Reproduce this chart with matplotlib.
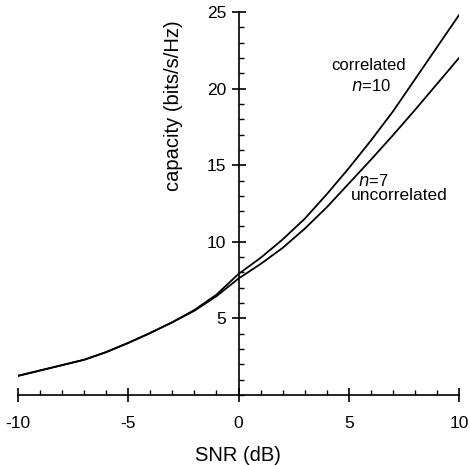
import matplotlib
matplotlib.use("Agg")
import matplotlib.pyplot as plt
from matplotlib.ticker import MultipleLocator, FixedLocator

snr_db = [-10, -9, -8, -7, -6, -5, -4, -3, -2, -1, 0, 1, 2, 3, 4, 5, 6, 7, 8, 9, 10]
cap_correlated = [1.25, 1.6, 1.95, 2.3, 2.8, 3.4, 4.05, 4.75, 5.55, 6.55, 7.9,
                  8.95, 10.15, 11.5, 13.1, 14.8, 16.6, 18.5, 20.6, 22.7, 24.8]
cap_uncorrelated = [1.25, 1.6, 1.95, 2.3, 2.8, 3.4, 4.05, 4.75, 5.5, 6.45, 7.6,
                    8.55, 9.6, 10.85, 12.25, 13.8, 15.35, 16.95, 18.6, 20.3, 22.0]
x_ticks = [-10, -5, 0, 5, 10]
y_ticks = [5, 10, 15, 20, 25]

plt.rcParams['font.family'] = ['Liberation Sans', 'DejaVu Sans']
plt.rcParams['axes.unicode_minus'] = False

fig = plt.figure(figsize=(4.7, 4.65), dpi=100)
ax = fig.add_axes([18/470, 70/465, 441/470, 383/465])

ax.plot(snr_db, cap_correlated, color='black', lw=1.3)
ax.plot(snr_db, cap_uncorrelated, color='black', lw=1.3)

ax.set_xlim(-10, 10)
ax.set_ylim(0, 25)

ax.spines['left'].set_position(('data', 0))
ax.spines['bottom'].set_position(('data', 0))
ax.spines['top'].set_visible(False)
ax.spines['right'].set_visible(False)
for s in ('left', 'bottom'):
    ax.spines[s].set_linewidth(1.2)

ax.xaxis.set_major_locator(FixedLocator(x_ticks))
ax.yaxis.set_major_locator(FixedLocator(y_ticks))
ax.xaxis.set_minor_locator(MultipleLocator(1))
ax.yaxis.set_minor_locator(MultipleLocator(1))
ax.tick_params(which='major', direction='inout', length=10, width=1.2, labelsize=12.5)
ax.tick_params(which='minor', direction='in', length=3.5, width=1.0)
ax.tick_params(axis='x', which='major', pad=10)
ax.tick_params(axis='y', which='major', pad=4)

ax.text(-2.95, 18.9, 'capacity (bits/s/Hz)', rotation=90, ha='center', va='center', fontsize=14.5)
fig.text(238/470, 1 - 455/465, 'SNR (dB)', ha='center', va='center', fontsize=14.5)

ax.text(5.9, 21.5, 'correlated', ha='center', va='center', fontsize=12)
ax.text(5.99, 20.2, r'$\it{n}$=10', ha='center', va='center', fontsize=12)
ax.text(6.1, 14.0, r'$\it{n}$=7', ha='center', va='center', fontsize=12)
ax.text(7.3, 13.05, 'uncorrelated', ha='center', va='center', fontsize=12.5)

fig.savefig('out.png', dpi=100)
